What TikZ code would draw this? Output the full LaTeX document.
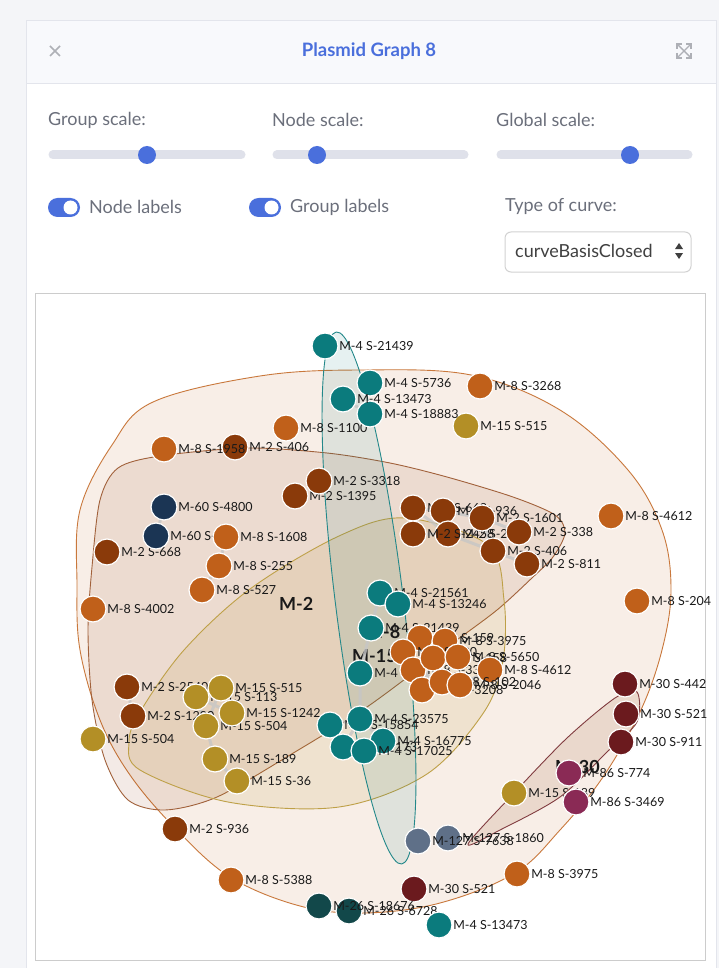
\documentclass[tikz,border=0pt]{standalone}
\usepackage{fontspec}
\setmainfont{Lato}
\usetikzlibrary{positioning}
\pgfdeclarelayer{back}
\pgfdeclarelayer{mid}
\pgfsetlayers{back,mid,main}
% node colours, one per M-group
\definecolor{mfour}{HTML}{0B7B7D}
\definecolor{meight}{HTML}{C0601A}
\definecolor{mtwo}{HTML}{8A3A0A}
\definecolor{mfifteen}{HTML}{B38F26}
\definecolor{msixty}{HTML}{1B3554}
\definecolor{mthirty}{HTML}{6B1A1E}
\definecolor{meightysix}{HTML}{8A2A55}
\definecolor{monetwoseven}{HTML}{5F7088}
\definecolor{mtwentysix}{HTML}{12484A}
% ui colours
\definecolor{uiblue}{HTML}{4A6FDC}
\definecolor{uigrey}{HTML}{6B6F7B}
\definecolor{uitrack}{HTML}{DFE1EA}
\definecolor{pagebg}{HTML}{F4F5F8}
\definecolor{headbg}{HTML}{F8F9FC}
\definecolor{cardline}{HTML}{E3E5EC}
\tikzset{
  plasmid/.style={circle, minimum size=26pt, inner sep=0pt, draw=white, line width=1.2pt},
  plabel/.style={anchor=west, inner sep=0pt, text=black!90, font=\fontsize{12.5}{12.5}\selectfont},
  glabel/.style={anchor=west, inner sep=0pt, text=black!90, font=\bfseries\fontsize{18}{18}\selectfont},
  link/.style={draw=gray!45, line width=3pt, opacity=0.8},
  uitext/.style={anchor=west, inner sep=0pt, text=uigrey, font=\fontsize{18}{18}\selectfont},
  slider/.style={draw=uitrack, line width=9pt, line cap=round},
  grp/.style={line width=0.9pt, fill opacity=0.1},
}
\newcommand{\plasmid}[5]{%
  \node[plasmid, fill=#4] (#1) at (#2,#3) {};
  \node[plabel, right=0.5pt of #1] (#1-lab) {#5};
}
\begin{document}
\begin{tikzpicture}[x=1pt, y=-1pt]
\useasboundingbox (0,0) rectangle (719,968);
\begin{pgfonlayer}{back}
% panel
\fill[pagebg] (0,0) rectangle (719,968);
\draw[cardline, fill=white] (26,20) rectangle (716,975);
\draw[cardline, fill=headbg] (26,20) rectangle (716,83);
\node[font=\bfseries\fontsize{18.5}{18.5}\selectfont, text=uiblue] (title) at (369,51) {Plasmid Graph 8};
\draw[uigrey!55, line width=1.6pt] (50,46) -- (60,56) (60,46) -- (50,56);
\draw[uigrey!55, line width=1.4pt] (678,45) -- (690,57) (690,45) -- (678,57);
\draw[uigrey!55, line width=1.4pt] (677,49) -- (677,44) -- (682,44) (686,44) -- (691,44) -- (691,49)
  (677,53) -- (677,58) -- (682,58) (686,58) -- (691,58) -- (691,53);
% sliders
\node[uitext] (gscale) at (48,120) {Group scale:};
\node[uitext] (nscale) at (272,120) {Node scale:};
\node[uitext] (wscale) at (496,120) {Global scale:};
\draw[slider] (53,155) -- (241,155);
\draw[slider] (277,155) -- (464,155);
\draw[slider] (501,155) -- (688,155);
\fill[uiblue] (147,155) circle (9);
\fill[uiblue] (317,155) circle (9);
\fill[uiblue] (630,155) circle (9);
% toggles
\fill[uiblue, rounded corners=9.5pt] (48,198) rectangle (80,217);
\fill[white] (70.5,207.5) circle (7);
\node[uitext] (nlabels) at (89,207) {Node labels};
\fill[uiblue, rounded corners=9.5pt] (249,198) rectangle (281,217);
\fill[white] (271.5,207.5) circle (7);
\node[uitext] (glabels) at (290,207) {Group labels};
\node[uitext] (curvetype) at (505,207) {Type of curve:};
\draw[gray!35, fill=white, rounded corners=6pt, line width=1pt] (505,232) rectangle (691,272);
\node[uitext, text=black!75] (curvename) at (515,251) {curveBasisClosed};
\fill[black!75] (675,249) -- (683,249) -- (679,243) -- cycle;
\fill[black!75] (675,253) -- (683,253) -- (679,259) -- cycle;
% graph frame
\draw[gray!40, line width=1pt] (35,293) rectangle (705,960);
% groups
\draw[grp, draw=meight!85, fill=meight] plot[smooth cycle, tension=0.6] coordinates {
  (360,370) (471,375) (560,410) (628,470) (662,530) (671,590) (662,650) (640,712)
  (603,777) (560,830) (515,873) (440,903) (365,913) (300,906) (230,877) (175,828)
  (130,775) (100,720) (80,650) (77,585) (80,510) (112,445) (153,402) (260,376)};
\draw[grp, draw=mtwo!80, fill=mtwo] plot[smooth cycle, tension=0.5] coordinates {
  (160,456) (247,448) (327,453) (390,463) (447,477) (513,497) (555,515) (565,533)
  (553,557) (533,577) (497,610) (450,645) (367,707) (290,755) (217,797) (165,810)
  (128,800) (105,760) (92,700) (88,630) (92,567) (100,500) (118,468)};
\draw[grp, draw=mfifteen!85, fill=mfifteen, fill opacity=0.12] plot[smooth cycle, tension=0.55] coordinates {
  (405,518) (488,545) (504,600) (503,660) (484,712) (427,774) (339,807) (228,802)
  (140,770) (129,742) (140,712) (184,650) (250,589) (339,536)};
\draw[grp, draw=mthirty!85, fill=mtwo, fill opacity=0.12] plot[smooth cycle, tension=0.5] coordinates {
  (468,844) (515,792) (567,738) (615,698) (637,692) (637,722) (607,752) (560,797) (500,830)};
\draw[grp, draw=mfour!90, fill=mfour] (369,598) ellipse [x radius=34, y radius=268, rotate=7];
% group labels
\node[glabel] (gtwo) at (279,604) {M-2};
\node[glabel] (geight) at (366,632) {M-8};
\node[glabel] (gfifteen) at (352,656) {M-15};
\node[glabel] (gthirty) at (555,767) {M-30};
\end{pgfonlayer}
% nodes
\plasmid{t1}{325}{346}{mfour}{M-4 S-21439}
\plasmid{o1}{480}{386}{meight}{M-8 S-3268}
\plasmid{g1}{466}{426}{mfifteen}{M-15 S-515}
\plasmid{b1}{235}{447}{mtwo}{M-2 S-406}
\plasmid{o2}{286}{428}{meight}{M-8 S-1100}
\plasmid{o3}{164}{449}{meight}{M-8 S-1958}
\plasmid{t2}{370}{383}{mfour}{M-4 S-5736}
\plasmid{t4}{370}{414}{mfour}{M-4 S-18883}
\plasmid{t3}{343}{399}{mfour}{M-4 S-13473}
\plasmid{b3}{295}{496}{mtwo}{M-2 S-1395}
\plasmid{b2}{319}{481}{mtwo}{M-2 S-3318}
\plasmid{n1}{164}{507}{msixty}{M-60 S-4800}
\plasmid{b4}{107}{552}{mtwo}{M-2 S-668}
\plasmid{n2}{156}{536}{msixty}{M-60 S-1}
\plasmid{o4}{226}{537}{meight}{M-8 S-1608}
\plasmid{o5}{219}{566}{meight}{M-8 S-255}
\plasmid{o6}{202}{590}{meight}{M-8 S-527}
\plasmid{o7}{93}{609}{meight}{M-8 S-4002}
\plasmid{o8}{611}{516}{meight}{M-8 S-4612}
\plasmid{o9}{637}{601}{meight}{M-8 S-204}
% M-2 cluster
\plasmid{b5}{413}{508}{mtwo}{M-2 S-668}
\plasmid{b6}{443}{511}{mtwo}{M-2 S-936}
\plasmid{b8}{448}{534}{mtwo}{M-2 S-2}
\plasmid{b7}{413}{534}{mtwo}{M-2 S-2458}
\plasmid{b9}{482}{518}{mtwo}{M-2 S-1601}
\plasmid{b10}{519}{532}{mtwo}{M-2 S-338}
\plasmid{b11}{493}{551}{mtwo}{M-2 S-406}
\plasmid{b12}{527}{564}{mtwo}{M-2 S-811}
% M-4 centre
\plasmid{t8}{360}{673}{mfour}{M-4}
\plasmid{t5}{380}{593}{mfour}{M-4 S-21561}
\plasmid{t6}{398}{604}{mfour}{M-4 S-13246}
\plasmid{t7}{371}{628}{mfour}{M-4 S-21439}
% M-8 cluster
\plasmid{oc1}{420}{638}{meight}{M-8 S-159}
\plasmid{oc2}{445}{641}{meight}{M-8 S-3975}
\plasmid{oc3}{403}{652}{meight}{M-8 S-200}
\plasmid{oc6}{413}{670}{meight}{M-8 S-337}
\plasmid{oc4}{433}{658}{meight}{M-8 S-158}
\plasmid{oc5}{458}{657}{meight}{M-8 S-5650}
\plasmid{oc10}{490}{670}{meight}{M-8 S-4612}
\plasmid{oc9}{422}{690}{meight}{M-8 S-3208}
\plasmid{oc7}{442}{682}{meight}{M-8 S-102}
\plasmid{oc8}{460}{685}{meight}{M-8 S-2046}
% M-2 and M-15 left
\plasmid{b13}{127}{687}{mtwo}{M-2 S-2540}
\plasmid{b14}{133}{716}{mtwo}{M-2 S-1290}
\plasmid{g8}{93}{739}{mfifteen}{M-15 S-504}
\plasmid{g3}{196}{697}{mfifteen}{M-15 S-113}
\plasmid{g2}{221}{688}{mfifteen}{M-15 S-515}
\plasmid{g5}{206}{726}{mfifteen}{M-15 S-504}
\plasmid{g4}{232}{713}{mfifteen}{M-15 S-1242}
\plasmid{g6}{215}{759}{mfifteen}{M-15 S-189}
\plasmid{g7}{237}{781}{mfifteen}{M-15 S-36}
% M-4 bottom
\plasmid{t9}{330}{725}{mfour}{M-4 S-15854}
\plasmid{t10}{360}{719}{mfour}{M-4 S-23575}
\plasmid{t11}{343}{747}{mfour}{M-4 S-173}
\plasmid{t12}{383}{741}{mfour}{M-4 S-16775}
\plasmid{t13}{364}{751}{mfour}{M-4 S-17025}
% right and bottom
\plasmid{r1}{625}{684}{mthirty}{M-30 S-442}
\plasmid{r2}{626}{714}{mthirty}{M-30 S-521}
\plasmid{r3}{621}{742}{mthirty}{M-30 S-911}
\plasmid{g9}{514}{793}{mfifteen}{M-15 S-189}
\plasmid{p1}{569}{773}{meightysix}{M-86 S-774}
\plasmid{p2}{576}{802}{meightysix}{M-86 S-3469}
\plasmid{s2}{448}{838}{monetwoseven}{M-127 S-1860}
\plasmid{s1}{418}{841}{monetwoseven}{M-127 S-7638}
\plasmid{o10}{517}{874}{meight}{M-8 S-3975}
\plasmid{b15}{175}{829}{mtwo}{M-2 S-936}
\plasmid{o11}{231}{880}{meight}{M-8 S-5388}
\plasmid{r4}{414}{889}{mthirty}{M-30 S-521}
\plasmid{d2}{349}{911}{mtwentysix}{M-26 S-6728}
\plasmid{d1}{319}{906}{mtwentysix}{M-26 S-18676}
\plasmid{t14}{439}{925}{mfour}{M-4 S-13473}
% links
\begin{pgfonlayer}{mid}
\draw[link] (n1) -- (n2);
\draw[link] (b13) -- (b14);
\draw[link] (o4) -- (o5) (o5) -- (o6);
\draw[link] (t3) -- (t4);
\draw[link] (t5) -- (t7) (t7) -- (t8) (t8) -- (t10);
\draw[link] (t10) -- (t9) (t10) -- (t11) (t10) -- (t12) (t11) -- (t13) (t13) -- (t12);
\draw[link] (g3) -- (g4) (g2) -- (g5) (g3) -- (g5) (g5) -- (g6) (g6) -- (g7);
\draw[link] (b5) -- (b6) (b5) -- (b8) (b7) -- (b8) (b6) -- (b9) (b8) -- (b11);
\draw[link] (b9) -- (b10) (b11) -- (b12) (b9) -- (b11);
\draw[link] (oc3) -- (oc6) (oc1) -- (oc4) (oc4) -- (oc5) (oc6) -- (oc7);
\draw[link] (oc7) -- (oc8) (oc8) -- (oc10) (oc4) -- (oc9);
\end{pgfonlayer}
\end{tikzpicture}
\end{document}
